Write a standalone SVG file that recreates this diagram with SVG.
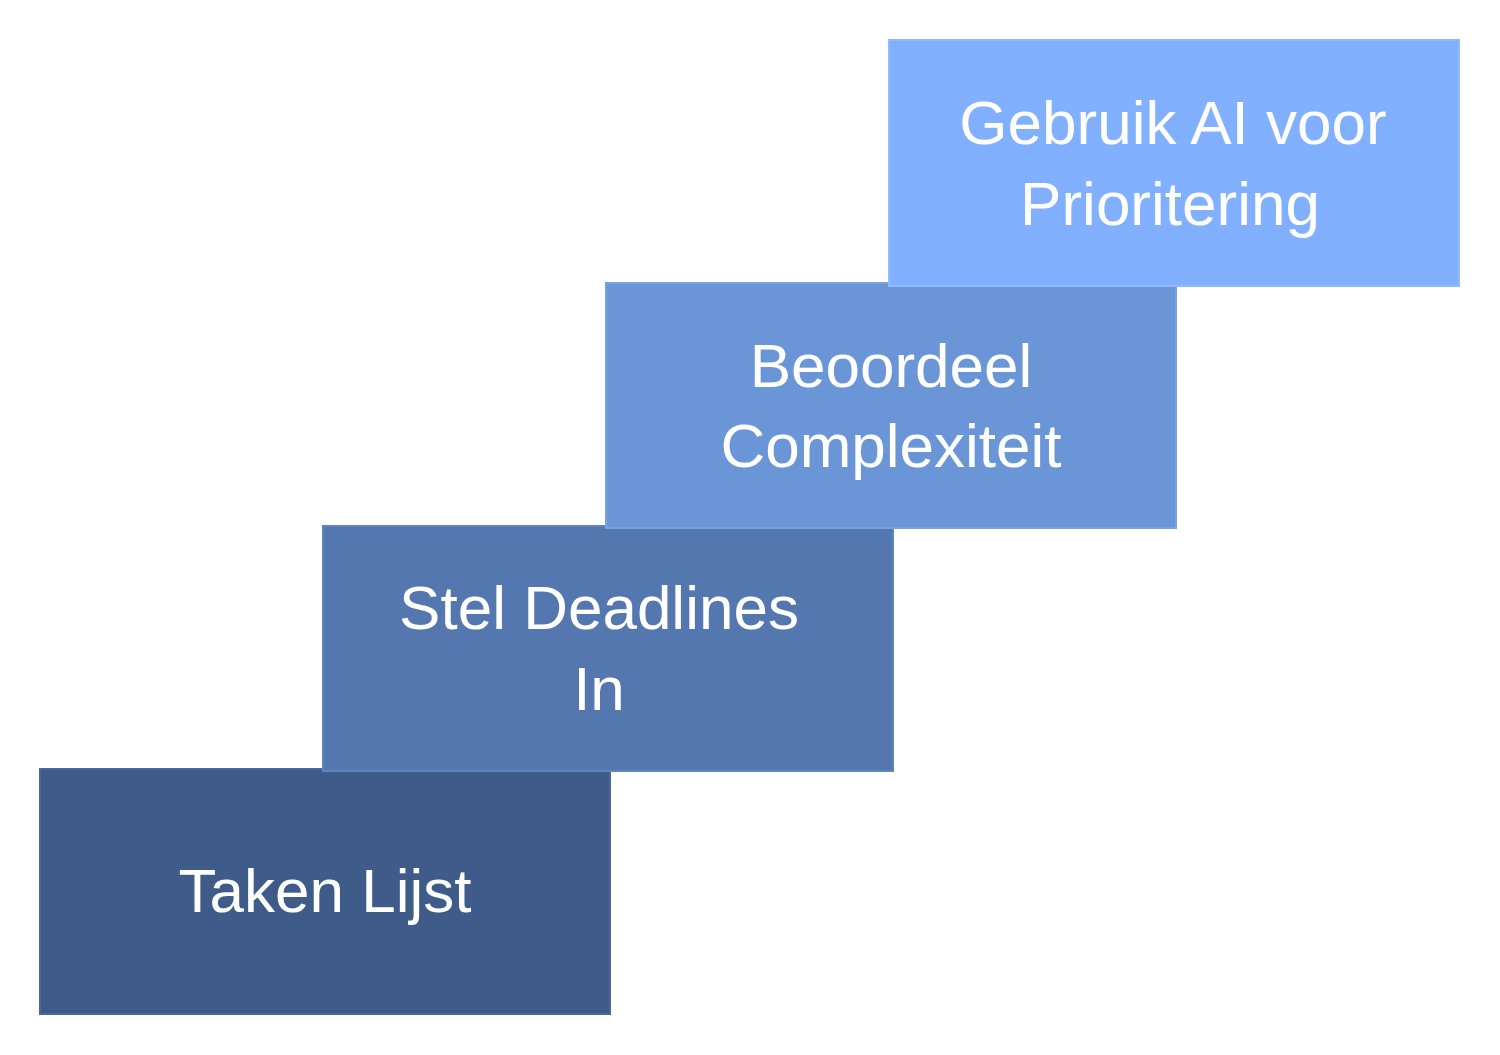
<svg xmlns="http://www.w3.org/2000/svg" width="1500" height="1055" viewBox="0 0 1500 1055">
<style>
rect{stroke-width:2}
text{font-family:"Liberation Sans",Arial,sans-serif;font-size:62px;fill:#fff;text-anchor:middle}
</style>
<rect width="1500" height="1055" fill="#fff" stroke="none"/>
<g id="connectors"></g>
<g id="n1"><rect x="40" y="769" width="570" height="245" fill="#3f5b8a" stroke="#4a6799"/><text x="325" y="912">Taken Lijst</text></g>
<g id="n2"><rect x="323" y="526" width="570" height="245" fill="#5577b0" stroke="#6283bc"/><text x="599" y="629">Stel Deadlines</text><text x="599" y="710">In</text></g>
<g id="n3"><rect x="606" y="283" width="570" height="245" fill="#6a95d6" stroke="#78a1e0"/><text x="891" y="387">Beoordeel</text><text x="891" y="467">Complexiteit</text></g>
<g id="n4"><rect x="889" y="40" width="570" height="246" fill="#80b0ff" stroke="#8fbaff"/><text x="1173" y="144">Gebruik AI voor</text><text x="1170" y="225">Prioritering</text></g>
</svg>
